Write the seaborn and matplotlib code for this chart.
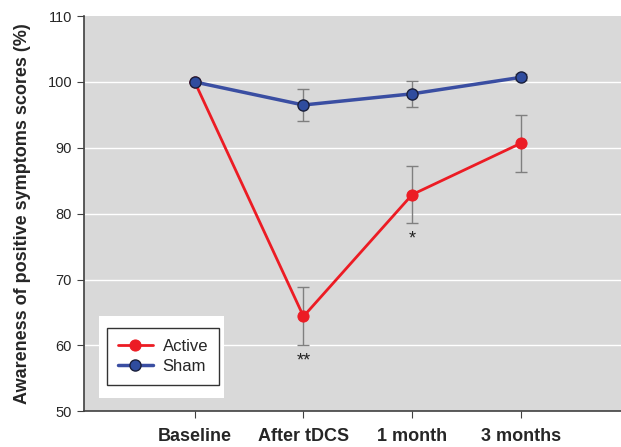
import numpy as np
import pandas as pd
import matplotlib
matplotlib.use("Agg")
import matplotlib.pyplot as plt
import seaborn as sns
from matplotlib.patches import Rectangle

# data
timepoints = ["Baseline", "After tDCS", "1 month", "3 months"]
active_mean = [100.0, 64.4, 82.9, 90.7]
active_err = [0.0, 4.4, 4.3, 4.35]
sham_mean = [100.0, 96.5, 98.2, 100.7]
sham_err = [0.0, 2.5, 1.95, 0.45]
stars = ["", "**", "*", ""]
star_y = [None, 57.6, 76.1, None]

sns.set_style("ticks")
plt.rcParams["font.family"] = ["Liberation Sans", "DejaVu Sans"]

df = pd.DataFrame({
    "time": timepoints * 2,
    "score": active_mean + sham_mean,
    "group": ["Active"] * 4 + ["Sham"] * 4,
})

fig = plt.figure(figsize=(6.21, 4.47), dpi=100)
ax = fig.add_axes([0.135, 0.08, 0.865, 0.884])
ax.set_facecolor("#d9d9d9")

for y in [60, 70, 80, 90, 100]:
    ax.axhline(y, color="white", lw=1.0, zorder=0)

pos = np.arange(len(timepoints))
ax.errorbar(pos, active_mean, yerr=active_err, fmt="none", ecolor="#7f7f7f",
            elinewidth=1, capsize=4.5, capthick=1, zorder=2)
ax.errorbar(pos, sham_mean, yerr=sham_err, fmt="none", ecolor="#7f7f7f",
            elinewidth=1, capsize=4.5, capthick=1, zorder=2)

sns.lineplot(data=df[df.group == "Active"], x="time", y="score", sort=False,
             color="#ec1c24", lw=2, marker="o", markersize=8,
             markeredgecolor="#ec1c24", label="Active", ax=ax, zorder=3)
sns.lineplot(data=df[df.group == "Sham"], x="time", y="score", sort=False,
             color="#3a4ea2", lw=2.5, marker="o", markersize=8,
             markerfacecolor="#2f4c9e", markeredgecolor="#1a1f3a",
             markeredgewidth=1, label="Sham", ax=ax, zorder=4)

for i, s in enumerate(stars):
    if s:
        ax.text(pos[i], star_y[i], s, ha="center", va="center", fontsize=13,
                color="#222222")

ax.set_xlim(-1.02, 3.92)
ax.set_ylim(50, 110)
ax.set_yticks([50, 60, 70, 80, 90, 100, 110])
ax.set_xticks(pos)
ax.set_xticklabels(timepoints, fontsize=13, fontweight="bold")
ax.tick_params(axis="x", length=5, pad=7, color="#404040")
ax.tick_params(axis="y", length=5, labelsize=10.5, color="#404040")
ax.set_xlabel("")
ax.set_ylabel("Awareness of positive symptoms scores (%)", fontsize=13,
              fontweight="bold", labelpad=12)

for side in ["top", "right"]:
    ax.spines[side].set_visible(False)
for side in ["left", "bottom"]:
    ax.spines[side].set_color("#404040")
    ax.spines[side].set_linewidth(1.2)

# white patch behind the legend
ax.add_patch(Rectangle((0.028, 0.033), 0.233, 0.208, transform=ax.transAxes,
                       facecolor="white", edgecolor="none", zorder=5))
leg = ax.legend(loc="lower left", bbox_to_anchor=(0.043, 0.066), fontsize=12,
                frameon=True, fancybox=False, handlelength=2.1,
                borderpad=0.65, labelspacing=0.3, handletextpad=0.6,
                borderaxespad=0)
leg.get_frame().set_edgecolor("black")
leg.get_frame().set_linewidth(1)
leg.set_zorder(6)

fig.savefig("out.png", dpi=100)
